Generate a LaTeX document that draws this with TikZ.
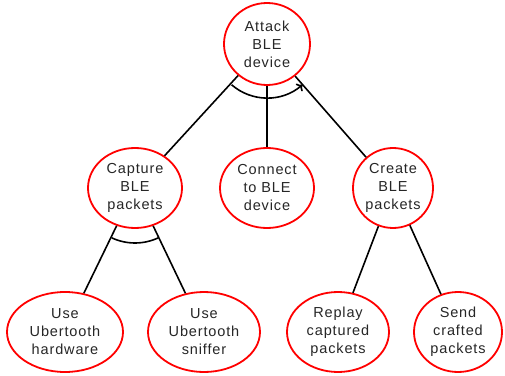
\documentclass[tikz,border=0pt]{standalone}
\usepackage{fontspec}
\setmainfont[LetterSpace=6]{Liberation Sans}
\usetikzlibrary{shapes.geometric,arrows.meta}

\tikzset{
	goal/.style={ellipse, draw=red, line width=1.8pt, inner sep=0pt,
		align=center, text=black!85, font=\fontsize{14.5}{18}\selectfont},
	link/.style={draw=black, line width=1.6pt}
}

\begin{document}
\begin{tikzpicture}[x=1pt,y=1pt]
		\useasboundingbox (0,0) rectangle (505,375);
		
		\node[goal, minimum width=86, minimum height=82] (attack)  at (267,331) {Attack\\BLE\\device};
		\node[goal, minimum width=94, minimum height=80] (capture) at (135,187) {Capture\\BLE\\packets};
		\node[goal, minimum width=94, minimum height=80] (connect) at (267,187) {Connect\\to BLE\\device};
		\node[goal, minimum width=80, minimum height=80] (create)  at (393,187) {Create\\BLE\\packets};
		\node[goal, minimum width=116, minimum height=80] (hardware) at (65,43)  {Use\\Ubertooth\\hardware};
		\node[goal, minimum width=112, minimum height=80] (sniffer)  at (204,43) {Use\\Ubertooth\\sniffer};
		\node[goal, minimum width=102, minimum height=80] (replay)   at (338,43) {Replay\\captured\\packets};
		\node[goal, minimum width=88, minimum height=80]  (send)     at (458,43) {Send\\crafted\\packets};
		
		\draw[link] (attack) -- (capture);
		\draw[link] (attack) -- (connect);
		\draw[link] (attack) -- (create);
		\draw[link] (capture) -- (hardware);
		\draw[link] (capture) -- (sniffer);
		\draw[link] (create) -- (replay);
		\draw[link] (create) -- (send);
		
		% and / sequence arcs
		\draw[link, -{To[length=5pt,width=10pt]}] ([shift={(229:54)}]attack.center) arc[start angle=229, end angle=311, radius=54];
		\draw[link] ([shift={(245:55)}]capture.center) arc[start angle=245, end angle=295, radius=55];
\end{tikzpicture}
\end{document}
